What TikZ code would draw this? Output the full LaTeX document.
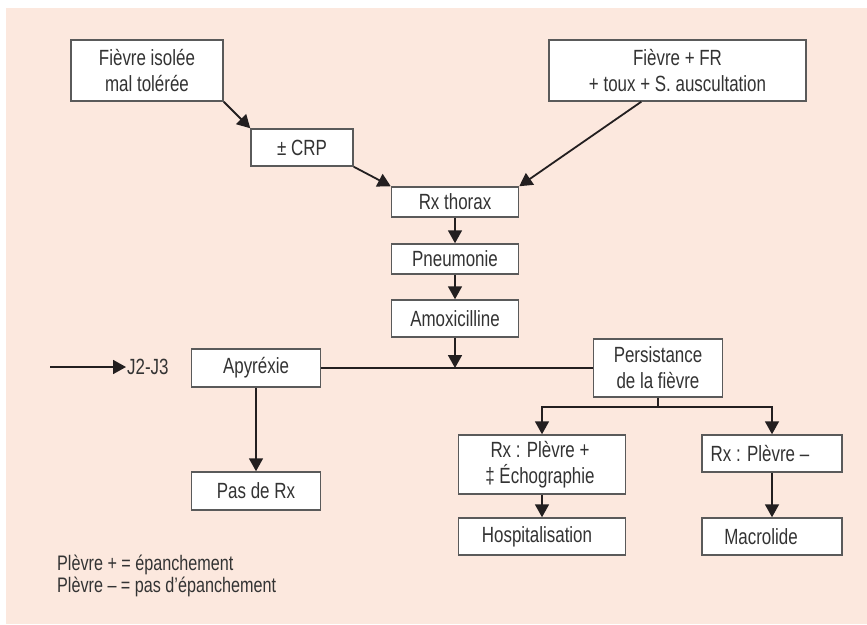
\documentclass[tikz,border=0pt]{standalone}
\usepackage{fontspec}
\setmainfont{Liberation Sans}[FakeStretch=0.77]
\usetikzlibrary{arrows.meta}
\definecolor{bg}{HTML}{FCE8DE}
\definecolor{ink}{HTML}{231F20}
\definecolor{boxline}{HTML}{5A5A5A}
\definecolor{txt}{HTML}{333333}
\begin{document}
\begin{tikzpicture}[x=1pt,y=-1pt,
  every node/.style={text=txt, font=\fontsize{22}{26}\selectfont},
  box/.style={draw=boxline, line width=1.5pt, fill=white, inner sep=0pt, align=center},
  link/.style={draw=ink, line width=1.8pt},
  arr/.style={link, -{Triangle[width=14pt,length=13pt]}}]
\useasboundingbox (0,0) rectangle (867,624);
\fill[bg] (6,8) rectangle (867,624);

% entry points
\node[box, minimum width=152pt, minimum height=61pt] (fi) at (147,70.5) {Fièvre isolée\\mal tolérée};
\node[box, minimum width=257pt, minimum height=61pt] (ff) at (677.5,70.5) {Fièvre + FR\\+ toux + S. auscultation};
\node[box, minimum width=102pt, minimum height=37pt] (crp) at (302,147.5) {± CRP};

% main column
\node[box, minimum width=127pt, minimum height=30pt] (rx) at (455,202) {Rx thorax};
\node[box, minimum width=127pt, minimum height=30pt] (pn) at (455,259) {Pneumonie};
\node[box, minimum width=127pt, minimum height=37pt] (amox) at (455,318.5) {Amoxicilline};

% J2-J3 outcome
\coordinate (jstart) at (50,367);
\node[anchor=west, inner sep=1pt] (j) at (126,367) {J2-J3};
\node[box, minimum width=129pt, minimum height=38pt] (apy) at (256,368) {Apyréxie};
\node[box, minimum width=129pt, minimum height=38pt] (pas) at (256,491) {Pas de Rx};
\node[box, minimum width=129pt, minimum height=58pt] (pers) at (658,368) {Persistance\\de la fièvre};

% persistence branches (texts sit a little left of the box centre)
\node[box, minimum width=167pt, minimum height=59pt] (plp) at (542,464.5) {Rx : Plèvre +\hspace*{4pt}\\‡ Échographie\hspace*{4pt}};
\node[box, minimum width=167pt, minimum height=37pt] (hosp) at (542,536.5) {Hospitalisation\hspace*{10pt}};
\node[box, minimum width=140pt, minimum height=37pt] (plm) at (772,453.5) {Rx : Plèvre –\hspace*{24pt}};
\node[box, minimum width=140pt, minimum height=37pt] (mac) at (772,536.5) {Macrolide\hspace*{22pt}};

% legend
\node[anchor=west, align=left, inner sep=0pt, font=\fontsize{21}{22}\selectfont] (leg) at (57,576)
  {Plèvre + = épanchement\\Plèvre – = pas d'épanchement};

% connectors
\draw[arr] (fi.south east) -- (crp.north west);
\draw[arr] (crp.south east) -- (rx.north west);
\draw[arr] ([xshift=93pt]ff.south west) -- (rx.north east);
\draw[arr] (rx) -- (pn);
\draw[arr] (pn) -- (amox);
\draw[link] (apy.east) -- (pers.west);
\draw[arr] (amox.south) -- (amox.south |- apy.east);
\draw[arr] (jstart) -- (j.west);
\draw[arr] (apy) -- (pas);
\draw[arr] (pers.south) -- ++(0,9) -| (plp.north);
\draw[arr] (pers.south) -- ++(0,9) -| (plm.north);
\draw[arr] (plp) -- (hosp);
\draw[arr] (plm) -- (mac);
\end{tikzpicture}
\end{document}
